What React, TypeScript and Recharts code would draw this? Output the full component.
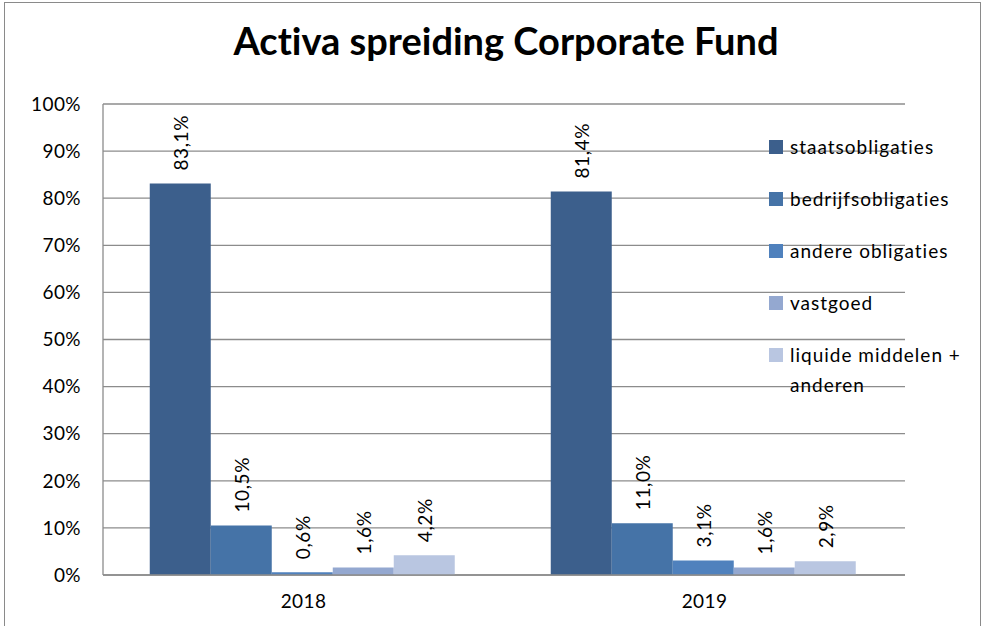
import { BarChart, Bar, XAxis, YAxis, CartesianGrid, LabelList } from "recharts";

const years = ["2018", "2019"];
const seriesNames = [
  "staatsobligaties",
  "bedrijfsobligaties",
  "andere obligaties",
  "vastgoed",
  "liquide middelen + anderen",
];
const seriesKeys = ["staats", "bedrijfs", "andere", "vastgoed", "liquide"];
const seriesColors = ["#3C5F8C", "#4573A7", "#4F81BD", "#94A8D0", "#B9C6E1"];
const staats = [83.1, 81.4];
const bedrijfs = [10.5, 11.0];
const andere = [0.6, 3.1];
const vastgoed = [1.6, 1.6];
const liquide = [4.2, 2.9];
const yTicks = [0, 10, 20, 30, 40, 50, 60, 70, 80, 90, 100];

const seriesValues = [staats, bedrijfs, andere, vastgoed, liquide];
const data = years.map((year, i) => {
  const row: Record<string, string | number> = { year };
  seriesKeys.forEach((k, s) => (row[k] = seriesValues[s][i]));
  return row;
});

const FONT = "Lato, 'DejaVu Sans', sans-serif";
const tickStyle = {
  fontSize: 19,
  fill: "#000",
  fontFamily: FONT,
  letterSpacing: 0.4,
};

const fmt = (v: number) => `${v.toFixed(1).replace(".", ",")}%`;

const RotatedLabel = (props: any) => {
  const { x, y, width, value } = props;
  const cx = x + width / 2;
  const ty = y - 13;
  return (
    <text
      x={cx}
      y={ty}
      transform={`rotate(-90, ${cx}, ${ty})`}
      textAnchor="start"
      dominantBaseline="central"
      fontSize={19}
      fontFamily={FONT}
      letterSpacing={0.6}
      fill="#000"
    >
      {fmt(value)}
    </text>
  );
};

export default function App() {
  return (
    <div
      style={{
        position: "absolute",
        left: 0,
        top: 0,
        width: 984,
        height: 626,
        background: "#fff",
        overflow: "hidden",
        fontFamily: FONT,
        fontVariantLigatures: "none",
      }}
    >
      <div
        style={{
          position: "absolute",
          left: 4,
          top: 2,
          width: 975,
          height: 660,
          border: "1.5px solid #8a8a8a",
        }}
      />
      <div
        style={{
          position: "absolute",
          left: 0,
          width: 1012,
          top: 17,
          textAlign: "center",
          fontSize: 38,
          fontWeight: 700,
          color: "#000",
        }}
      >
        Activa spreiding Corporate Fund
      </div>
      <div style={{ position: "absolute", left: 0, top: 0 }}>
        <BarChart
          width={984}
          height={626}
          data={data}
          margin={{ top: 104, right: 79, left: 0, bottom: 21 }}
          barCategoryGap="11.66%"
          barGap={0}
        >
          <CartesianGrid vertical={false} stroke="#8c8c8c" strokeWidth={1.3} />
          <XAxis
            dataKey="year"
            axisLine={{ stroke: "#8c8c8c", strokeWidth: 1.3 }}
            tickLine={false}
            tick={tickStyle}
            tickSize={6}
            tickMargin={14}
            height={30}
          />
          <YAxis
            domain={[0, 100]}
            ticks={yTicks}
            interval={0}
            tickFormatter={(v) => `${v}%`}
            axisLine={{ stroke: "#8c8c8c", strokeWidth: 1.3 }}
            tickLine={false}
            tickSize={6}
            tickMargin={16}
            width={103}
            tick={tickStyle}
          />
          {seriesKeys.map((k, s) => (
            <Bar
              key={k}
              dataKey={k}
              name={seriesNames[s]}
              fill={seriesColors[s]}
              isAnimationActive={false}
            >
              <LabelList dataKey={k} content={RotatedLabel} />
            </Bar>
          ))}
        </BarChart>
      </div>
      <div style={{ position: "absolute", left: 769, top: 132 }}>
        {seriesNames.map((name, s) => (
          <div
            key={name}
            style={{
              position: "relative",
              height: 52,
              fontSize: 19,
              letterSpacing: 1,
              lineHeight: "30px",
              color: "#000",
            }}
          >
            <span
              style={{
                position: "absolute",
                left: 0,
                top: 8,
                width: 14,
                height: 14,
                background: seriesColors[s],
              }}
            />
            <div style={{ marginLeft: 21, width: 200 }}>{name}</div>
          </div>
        ))}
      </div>
    </div>
  );
}
